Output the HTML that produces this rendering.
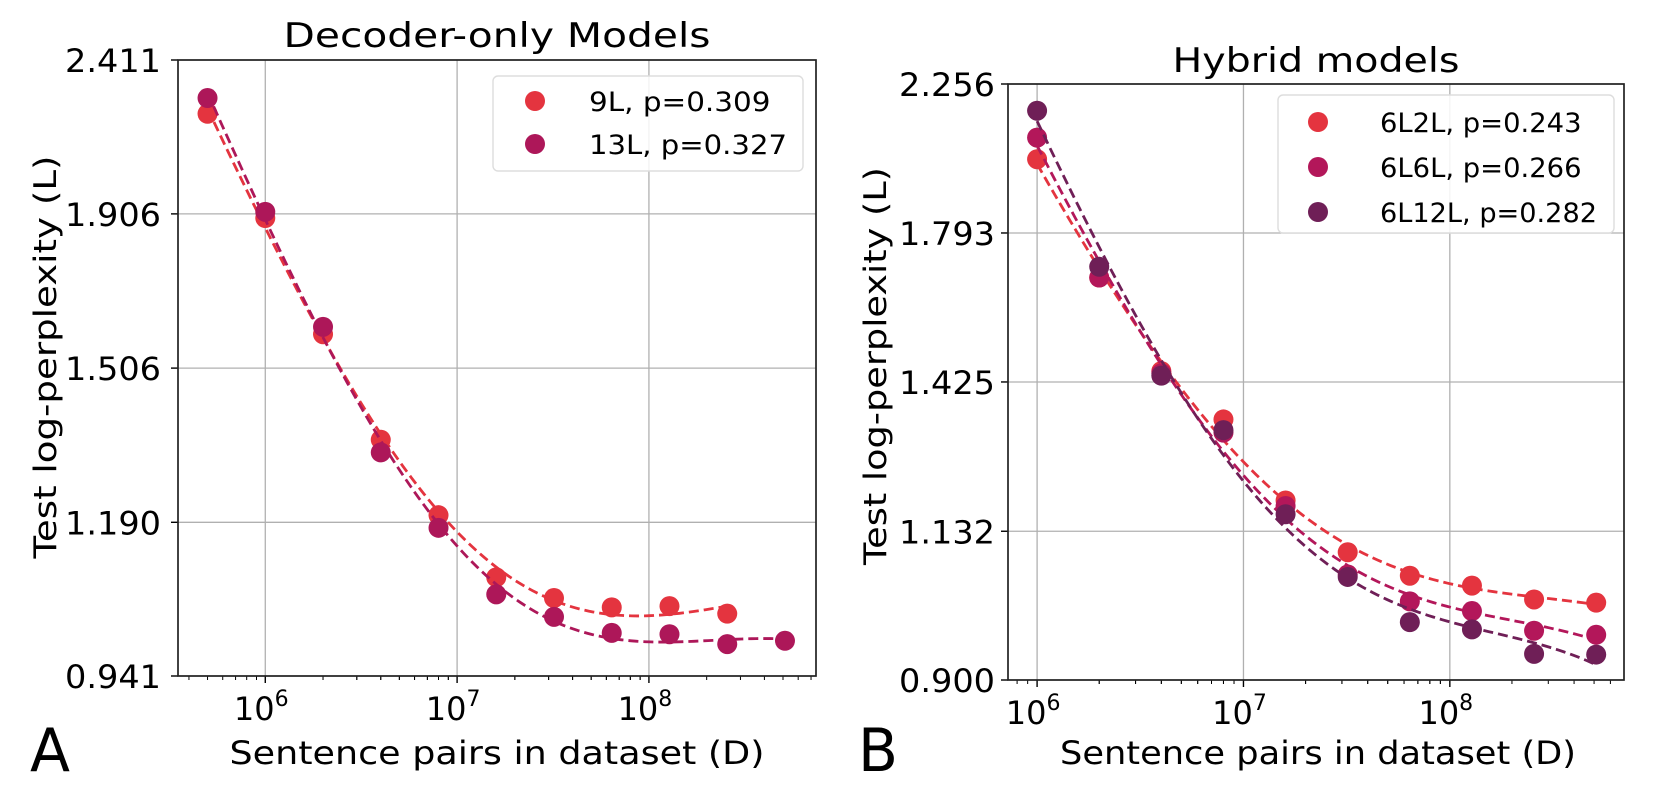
<!DOCTYPE html>
<html><head><meta charset="utf-8"><style>
html,body{margin:0;padding:0;background:#fff;}
svg{display:block;font-family:"DejaVu Sans","Liberation Sans",sans-serif;}
</style></head><body>
<svg id="fig" width="1678" height="801" viewBox="0 0 1678 801"></svg>
<script>
// ---- Panel A data ----
const xA = [5e5,1e6,2e6,4e6,8e6,1.6e7,3.2e7,6.4e7,1.28e8,2.56e8,5.12e8];
const a9L = [2.221,1.894,1.586,1.350,1.203,1.094,1.060,1.045,1.047,1.035,null];
const a13L = [2.275,1.912,1.604,1.324,1.180,1.066,1.030,1.005,1.003,0.988,0.993];
const ticksA = [2.411,1.906,1.506,1.190,0.941];
const labelsA = ["9L, p=0.309","13L, p=0.327"];
// ---- Panel B data ----
const xB = [1e6,2e6,4e6,8e6,1.6e7,3.2e7,6.4e7,1.28e8,2.56e8,5.12e8];
const b6L2L = [2.009,1.674,1.449,1.345,1.187,1.096,1.057,1.041,1.019,1.014];
const b6L6L = [2.077,1.674,1.444,1.318,1.177,1.059,1.016,1.001,0.971,0.965];
const b6L12L = [2.165,1.702,1.439,1.323,1.162,1.055,0.984,0.973,0.937,0.936];
const ticksB = [2.256,1.793,1.425,1.132,0.900];
const labelsB = ["6L2L, p=0.243","6L6L, p=0.266","6L12L, p=0.282"];
const xTicks = [6,7,8];

const NS="http://www.w3.org/2000/svg";
const svg=document.getElementById('fig');
function mk(tag,attrs,parent){const e=document.createElementNS(NS,tag);for(const k in attrs)e.setAttribute(k,attrs[k]);(parent||svg).appendChild(e);return e;}

// least-squares cubic in log10(D)
function fit(xs,ys){
  const P=[];xs.forEach((x,i)=>{if(ys[i]!=null)P.push([Math.log10(x)-7,ys[i]]);});
  const n=4,M=[],v=[];
  for(let i=0;i<n;i++){M.push(new Array(n).fill(0));v.push(0);}
  P.forEach(p=>{for(let i=0;i<n;i++){v[i]+=Math.pow(p[0],i)*p[1];for(let j=0;j<n;j++)M[i][j]+=Math.pow(p[0],i+j);}});
  for(let i=0;i<n;i++){
    let piv=i;for(let r=i+1;r<n;r++)if(Math.abs(M[r][i])>Math.abs(M[piv][i]))piv=r;
    [M[i],M[piv]]=[M[piv],M[i]];[v[i],v[piv]]=[v[piv],v[i]];
    for(let r=0;r<n;r++){if(r===i)continue;const f=M[r][i]/M[i][i];for(let c=i;c<n;c++)M[r][c]-=f*M[i][c];v[r]-=f*v[i];}
  }
  const c=v.map((val,i)=>val/M[i][i]);
  return t=>c[0]+c[1]*t+c[2]*t*t+c[3]*t*t*t;
}

function txt(g,attrs,content,name,inter){
  const t=mk('text',attrs,g);t.textContent=content;
  
  
  return t;
}

function panel(cfg){
  const {x0,x1,y0,y1,lx0,lx1,yt,series,name}=cfg;
  const g=mk('g',{});
  
  
  const lg0=Math.log10(yt[yt.length-1]), lg1=Math.log10(yt[0]);
  const X=v=>x0+(Math.log10(v)-lx0)/(lx1-lx0)*(x1-x0);
  const Y=v=>y1-(Math.log10(v)-lg0)/(lg1-lg0)*(y1-y0);
  yt.forEach(t=>{
    const l=mk('line',{x1:x0,x2:x1,y1:Y(t),y2:Y(t),stroke:'#b0b0b0','stroke-width':1.3},g);
    
    
    mk('line',{x1:x0-7,x2:x0,y1:Y(t),y2:Y(t),stroke:'#000','stroke-width':1.4},g);
    txt(g,{x:x0-cfg.tgap,y:Y(t)+12,'text-anchor':'end','font-size':32,textLength:96,lengthAdjust:'spacingAndGlyphs'},t.toFixed(3),'y-tick-label');
  });
  xTicks.forEach(e=>{
    const px=X(Math.pow(10,e));
    const l=mk('line',{x1:px,x2:px,y1:y0,y2:y1,stroke:'#b0b0b0','stroke-width':1.3},g);
    
    
    mk('line',{x1:px,x2:px,y1:y1,y2:y1+7,stroke:'#000','stroke-width':1.4},g);
    const tx=mk('text',{x:px-4,y:y1+44,'text-anchor':'middle','font-size':32},g);
    tx.innerHTML='10<tspan dy="-14" font-size="22">'+e+'</tspan>';
    
    
    for(let k=2;k<10;k++){
      const mx=X(k*Math.pow(10,e)); if(mx<x1) mk('line',{x1:mx,x2:mx,y1:y1,y2:y1+4,stroke:'#000','stroke-width':1},g);
      const mx2=X(k*Math.pow(10,e-1)); if(mx2>x0) mk('line',{x1:mx2,x2:mx2,y1:y1,y2:y1+4,stroke:'#000','stroke-width':1},g);
    }
  });
  series.forEach(s=>{
    const f=fit(s.xs,s.ys);
    const xsv=s.xs.filter((x,i)=>s.ys[i]!=null);
    const a=Math.log10(xsv[0]),b=Math.log10(xsv[xsv.length-1]);
    let d='';
    for(let i=0;i<=120;i++){
      const lx=a+(b-a)*i/120, D=Math.pow(10,lx);
      const L=f(lx-7);
      d+=(i?'L':'M')+X(D).toFixed(2)+','+Y(L).toFixed(2);
    }
    const path=mk('path',{d:d,fill:'none',stroke:s.color,'stroke-width':2.8,'stroke-dasharray':'10,5'},g);
    
    
    s.xs.forEach((xv,i)=>{
      if(s.ys[i]==null)return;
      const c=mk('circle',{cx:X(xv),cy:Y(s.ys[i]),r:10,fill:s.color},g);
      
      
    });
  });
  mk('rect',{x:x0,y:y0,width:x1-x0,height:y1-y0,fill:'none',stroke:'#222','stroke-width':1.7},g);
  const L=cfg.leg;
  const lb=mk('rect',{x:L.x,y:L.y,width:L.w,height:L.h,rx:5,fill:'#fff','fill-opacity':0.85,stroke:'#ddd','stroke-width':1.4},g);
  
  
  series.forEach((s,i)=>{
    const cy=L.ey[i];
    const c=mk('circle',{cx:L.mx,cy:cy,r:10,fill:s.color},g);
    
    
    txt(g,{x:L.tx,y:cy+10,'font-size':27,textLength:s.label.length*L.cw,lengthAdjust:'spacingAndGlyphs'},s.label,'legend-entry',true);
  });
  txt(g,{x:cfg.tcx,y:cfg.ty,'text-anchor':'middle','font-size':34,textLength:cfg.tw,lengthAdjust:'spacingAndGlyphs'},cfg.title,'chart-title');
  txt(g,{x:cfg.xlcx,y:764,'text-anchor':'middle','font-size':32,textLength:cfg.xlw,lengthAdjust:'spacingAndGlyphs'},'Sentence pairs in dataset (D)','x-axis-title');
  const ylx=cfg.ylx, yly=cfg.yly;
  txt(g,{x:ylx,y:yly,'text-anchor':'middle','font-size':31,textLength:cfg.yll,lengthAdjust:'spacingAndGlyphs',transform:'rotate(-90 '+ylx+' '+yly+')'},'Test log-perplexity (L)','y-axis-title');
  txt(g,{x:cfg.lx,y:771,'font-size':60,textLength:40,lengthAdjust:'spacingAndGlyphs'},cfg.letter,'panel-letter');
}

panel({name:'panel-a',x0:178,x1:816,y0:60,y1:676,lx0:5.545,lx1:8.871,yt:ticksA,tgap:17,
  title:'Decoder-only Models',tcx:497,ty:47,tw:427,xlcx:497,xlw:535,ylx:56,yly:357,yll:403,
  letter:'A',lx:30,
  leg:{x:493,y:76,w:310,h:95,mx:535,tx:589,ey:[101,144],cw:16.5},
  series:[{xs:xA,ys:a9L,color:'#e4343f',label:labelsA[0]},{xs:xA,ys:a13L,color:'#ad1759',label:labelsA[1]}]});
panel({name:'panel-b',x0:1008,x1:1624,y0:84,y1:680,lx0:5.859,lx1:8.844,yt:ticksB,tgap:13,
  title:'Hybrid models',tcx:1316,ty:72,tw:287,xlcx:1318,xlw:516,ylx:886,yly:366,yll:398,
  letter:'B',lx:858,
  leg:{x:1278,y:95,w:336,h:138,mx:1318,tx:1380,ey:[122,167,212],cw:15.5},
  series:[{xs:xB,ys:b6L2L,color:'#e4343f',label:labelsB[0]},{xs:xB,ys:b6L6L,color:'#b3175a',label:labelsB[1]},{xs:xB,ys:b6L12L,color:'#6f1f57',label:labelsB[2]}]});
</script>
</body></html>
